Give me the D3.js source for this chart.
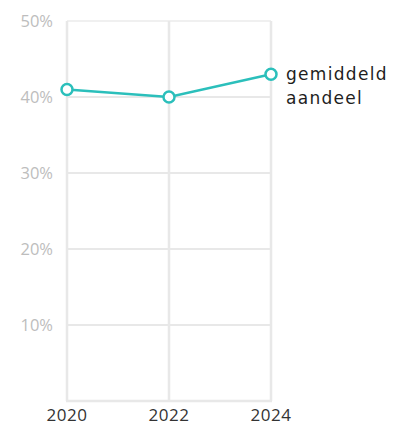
<!DOCTYPE html>
<html>
<head>
<meta charset="utf-8">
<script src="https://cdn.jsdelivr.net/npm/d3@7"></script>
<style>
  html, body { margin: 0; padding: 0; background: #fff; }
  svg { display: block; font-family: "Open Sans", "Noto Sans", sans-serif; }
</style>
</head>
<body>
<svg id="chart" width="399" height="427"></svg>
<script>
const years = [2020, 2022, 2024];
const values = [41, 40, 43];
const yTicks = [10, 20, 30, 40, 50];
const seriesLabel = ["gemiddeld", "aandeel"];

const svg = d3.select("#chart");
const margin = { left: 67, right: 128, top: 21, bottom: 26 };
const W = 399, H = 427;

const x = d3.scaleLinear().domain([2020, 2024]).range([margin.left, W - margin.right]);
const y = d3.scaleLinear().domain([0, 50]).range([H - margin.bottom, margin.top]);

const grid = "#e8e8e8";

// horizontal gridlines
svg.append("g").selectAll("line").data(yTicks).join("line")
  .attr("x1", x(2020)).attr("x2", x(2024))
  .attr("y1", d => y(d)).attr("y2", d => y(d))
  .attr("stroke", d => d === 50 ? "#f0f0f0" : grid).attr("stroke-width", 2);

// vertical gridlines
svg.append("g").selectAll("line").data(years).join("line")
  .attr("x1", d => x(d)).attr("x2", d => x(d))
  .attr("y1", y(50)).attr("y2", y(0))
  .attr("stroke", grid).attr("stroke-width", 2.5);

// bottom baseline
svg.append("line")
  .attr("x1", x(2020) - 1).attr("x2", x(2024) + 1)
  .attr("y1", y(0)).attr("y2", y(0))
  .attr("stroke", grid).attr("stroke-width", 2.5);

// y labels
svg.append("g").selectAll("text").data(yTicks).join("text")
  .attr("x", 53).attr("y", d => y(d))
  .attr("dy", "0.35em")
  .attr("text-anchor", "end")
  .attr("fill", "#bdbdbd")
  .attr("font-size", 16.5)
  .text(d => d + "%");

// x labels
svg.append("g").selectAll("text").data(years).join("text")
  .attr("x", d => x(d)).attr("y", 421)
  .attr("text-anchor", "middle")
  .attr("fill", "#333")
  .attr("font-size", 17)
  .attr("letter-spacing", 0.5)
  .text(d => d);

const color = "#2bbfbb";
const pts = years.map((d, i) => [d, values[i]]);

svg.append("path")
  .datum(pts)
  .attr("fill", "none")
  .attr("stroke", color)
  .attr("stroke-width", 2.5)
  .attr("d", d3.line().x(d => x(d[0])).y(d => y(d[1])));

svg.append("g").selectAll("circle").data(pts).join("circle")
  .attr("cx", d => x(d[0])).attr("cy", d => y(d[1]))
  .attr("r", 5.5)
  .attr("fill", "#fff")
  .attr("stroke", color)
  .attr("stroke-width", 2.5);

// series label
const last = pts[pts.length - 1];
svg.append("text")
  .attr("x", x(last[0]) + 15)
  .attr("y", y(last[1]))
  .attr("fill", "#1e1e1e")
  .attr("font-family", "'DejaVu Sans', sans-serif")
  .attr("font-size", 17)
  .attr("letter-spacing", 1.3)
  .selectAll("tspan").data(seriesLabel).join("tspan")
  .attr("x", x(last[0]) + 15)
  .attr("dy", (d, i) => i === 0 ? "0.35em" : "1.42em")
  .text(d => d);
</script>
</body>
</html>
